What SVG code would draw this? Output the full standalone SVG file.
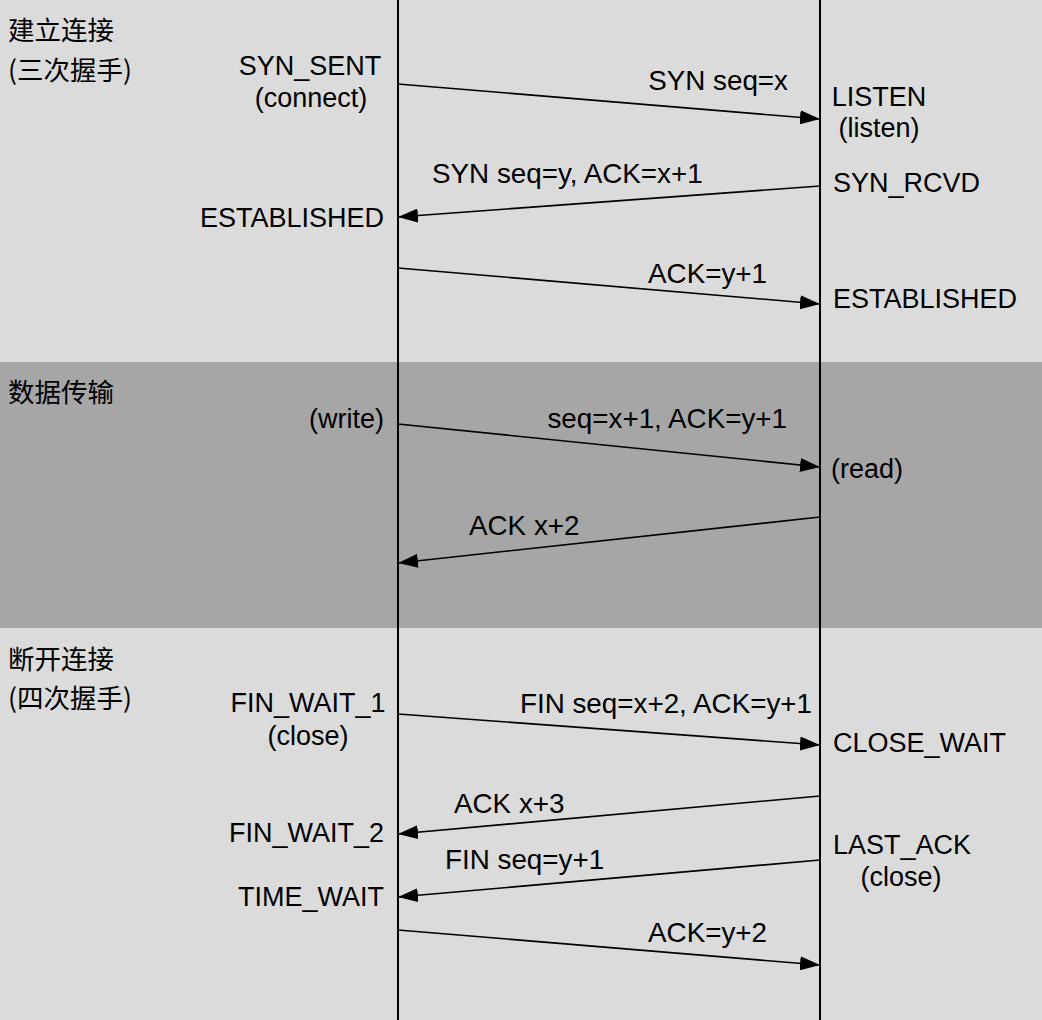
<svg xmlns="http://www.w3.org/2000/svg" width="1042" height="1020" viewBox="0 0 1042 1020">
<defs>
<marker id="ah" markerUnits="userSpaceOnUse" markerWidth="22" markerHeight="14" refX="20" refY="7" orient="auto">
<path d="M0,0 L20,7 L0,14 Z" fill="#000"/>
</marker>
<style>
text{font-family:"Liberation Sans","Noto Sans CJK SC",sans-serif;font-size:27px;fill:#000}
.lbl{font-size:27.8px}
.cjk{font-family:"Noto Sans CJK SC","Liberation Sans",sans-serif;font-size:26.5px}
.m{text-anchor:middle}
.e{text-anchor:end}
.msg{stroke:#000;stroke-width:1.6;fill:none;marker-end:url(#ah)}
.life{stroke:#000;stroke-width:2}
</style>
</defs>
<g id="background">
<rect x="0" y="0" width="1042" height="362" fill="#dbdbdb"/>
<rect x="0" y="362" width="1042" height="266" fill="#a6a6a6"/>
<rect x="0" y="628" width="1042" height="392" fill="#dbdbdb"/>
</g>
<g id="lifelines">
<line class="life" x1="398" y1="0" x2="398" y2="1020"/>
<line class="life" x1="820" y1="0" x2="820" y2="1020"/>
</g>
<g id="phase-labels">
<text class="cjk" x="8" y="40">建立连接</text>
<text class="cjk" x="8" y="80">(三次握手)</text>
<text class="cjk" x="8" y="402">数据传输</text>
<text class="cjk" x="8" y="669">断开连接</text>
<text class="cjk" x="8" y="708">(四次握手)</text>
</g>
<g id="client-states">
<text class="m" x="310" y="75">SYN_SENT</text>
<text class="m" x="311" y="107">(connect)</text>
<text class="e" x="384" y="227">ESTABLISHED</text>
<text class="e" x="384" y="428">(write)</text>
<text class="m" x="308" y="712">FIN_WAIT_1</text>
<text class="m" x="308" y="745">(close)</text>
<text class="e" x="384" y="842">FIN_WAIT_2</text>
<text class="e" x="384" y="906">TIME_WAIT</text>
</g>
<g id="server-states">
<text class="m" x="879" y="106">LISTEN</text>
<text class="m" x="879" y="137">(listen)</text>
<text x="833" y="192">SYN_RCVD</text>
<text x="833" y="308">ESTABLISHED</text>
<text x="831" y="478">(read)</text>
<text x="833" y="752">CLOSE_WAIT</text>
<text x="833" y="854">LAST_ACK</text>
<text class="m" x="901" y="886">(close)</text>
</g>
<g id="connectors">
<line class="msg" x1="398" y1="84" x2="820" y2="119"/>
<line class="msg" x1="820" y1="186" x2="398" y2="217"/>
<line class="msg" x1="398" y1="268" x2="820" y2="304"/>
<line class="msg" x1="398" y1="424" x2="820" y2="467"/>
<line class="msg" x1="820" y1="517" x2="398" y2="563"/>
<line class="msg" x1="398" y1="714" x2="820" y2="745"/>
<line class="msg" x1="820" y1="796" x2="398" y2="834"/>
<line class="msg" x1="820" y1="860" x2="398" y2="897"/>
<line class="msg" x1="398" y1="930" x2="820" y2="965"/>
</g>
<g id="connector-labels">
<text class="lbl e" x="788" y="90">SYN seq=x</text>
<text class="lbl" x="432" y="183">SYN seq=y, ACK=x+1</text>
<text class="lbl e" x="767" y="283">ACK=y+1</text>
<text class="lbl e" x="787" y="428">seq=x+1, ACK=y+1</text>
<text class="lbl" x="469" y="535">ACK x+2</text>
<text class="lbl e" x="812" y="713">FIN seq=x+2, ACK=y+1</text>
<text class="lbl" x="454" y="813">ACK x+3</text>
<text class="lbl" x="445" y="869">FIN seq=y+1</text>
<text class="lbl e" x="767" y="942">ACK=y+2</text>
</g>
</svg>
